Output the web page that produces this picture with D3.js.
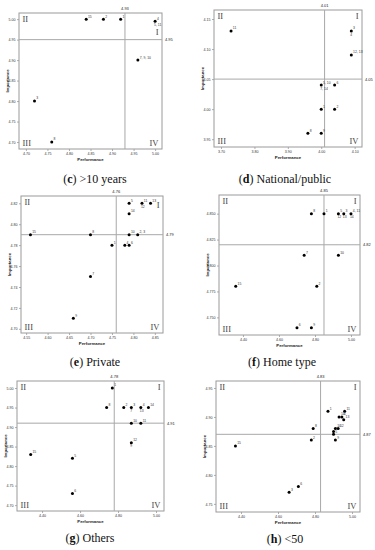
<!DOCTYPE html>
<html><head><meta charset="utf-8">
<script src="https://cdn.jsdelivr.net/npm/d3@7"></script>
<style>body{margin:0;background:#fff}svg{display:block}</style></head>
<body><svg id="chart" width="375" height="550"></svg>
<script>
// ---------- (c) >10 years ----------
const cPerf = [4.84, 4.88, 4.92, 5.00, 4.96, 4.72, 4.76];
const cImp  = [5.00, 5.00, 5.00, 4.995, 4.90, 4.80, 4.70];
const cLab  = ['15', '2', '1', '4', '7, 9, 10', '3', '8'];
const cLab2 = ['', '', '', '5, 11', '', '', ''];
const cXTicks = [4.70, 4.75, 4.80, 4.85, 4.90, 4.95, 5.00];
const cYTicks = [4.70, 4.75, 4.80, 4.85, 4.90, 4.95, 5.00];
const cXDom = [4.684, 5.016];
const cYDom = [4.683, 5.015];
const cMean = [4.93, 4.95];

// ---------- (d) National/public ----------
const dPerf = [3.73, 4.09, 4.09, 4.00, 4.04, 4.00, 4.04, 3.96, 4.00];
const dImp  = [4.13, 4.13, 4.09, 4.04, 4.04, 4.00, 4.00, 3.96, 3.96];
const dLab  = ['11', '3', '12, 13', '5, 10', '6', '1', '2', '8', '9'];
const dLab2 = ['', '4', '', '7, 14', '', '', '', '', ''];
const dXTicks = [3.70, 3.80, 3.90, 4.00, 4.10];
const dYTicks = [3.95, 4.00, 4.05, 4.10, 4.15];
const dXDom = [3.679, 4.122];
const dYDom = [3.937, 4.165];
const dMean = [4.01, 4.05];

// ---------- (e) Private ----------
const ePerf = [4.79, 4.82, 4.84, 4.79, 4.79, 4.81, 4.75, 4.78, 4.79, 4.70, 4.56, 4.70, 4.66];
const eImp  = [4.82, 4.82, 4.82, 4.81, 4.79, 4.79, 4.78, 4.78, 4.78, 4.79, 4.79, 4.75, 4.71];
const eLab  = ['5', '11', '13', '14', '10', '2, 3', '1', '4', '6', '8', '15', '7', '9'];
const eLab2 = ['', '12', '', '', '', '', '', '', '', '', '', '', ''];
const eXTicks = [4.55, 4.60, 4.65, 4.70, 4.75, 4.80, 4.85];
const eYTicks = [4.70, 4.72, 4.74, 4.76, 4.78, 4.80, 4.82];
const eXDom = [4.538, 4.869];
const eYDom = [4.696, 4.827];
const eMean = [4.76, 4.79];

// ---------- (f) Home type ----------
const fPerf = [4.78, 4.85, 4.93, 4.96, 5.00, 4.74, 4.93, 4.36, 4.81, 4.70, 4.78];
const fImp  = [4.85, 4.85, 4.85, 4.85, 4.85, 4.81, 4.81, 4.78, 4.78, 4.74, 4.74];
const fLab  = ['8', '1', '5', '3', '4, 11', '7', '10', '15', '2', '6', '9'];
const fLab2 = ['', '', '12', '13', '14', '', '', '', '', '', ''];
const fXTicks = [4.40, 4.60, 4.80, 5.00];
const fYTicks = [4.750, 4.775, 4.800, 4.825, 4.850];
const fXDom = [4.267, 5.05];
const fYDom = [4.733, 4.868];
const fMean = [4.85, 4.82];

// ---------- (g) Others ----------
const gPerf = [4.77, 4.74, 4.83, 4.87, 4.92, 4.96, 4.87, 4.92, 4.87, 4.34, 4.56, 4.56];
const gImp  = [5.00, 4.95, 4.95, 4.95, 4.95, 4.95, 4.91, 4.91, 4.86, 4.83, 4.82, 4.73];
const gLab  = ['1', '8', '2', '3', '4', '14', '10', '11', '12', '15', '5', '6'];
const gLab2 = ['', '', '', '7', '13', '', '', '', '9', '', '', ''];
const gXTicks = [4.40, 4.60, 4.80, 5.00];
const gYTicks = [4.70, 4.75, 4.80, 4.85, 4.90, 4.95, 5.00];
const gXDom = [4.268, 5.042];
const gYDom = [4.685, 5.018];
const gMean = [4.78, 4.91];

// ---------- (h) <50 ----------
const hPerf = [4.37, 4.66, 4.71, 4.78, 4.79, 4.87, 4.96, 4.93, 4.945, 4.955, 4.91, 4.925, 4.90, 4.90, 4.91];
const hImp  = [4.85, 4.77, 4.78, 4.86, 4.88, 4.91, 4.91, 4.90, 4.90, 4.895, 4.88, 4.88, 4.875, 4.87, 4.86];
const hLab  = ['15', '3', '6', '2', '8', '1', '11', '14', '4', '13', '10', '12', '7', '5', '9'];
const hLab2 = ['', '', '', '', '', '', '', '', '', '', '', '', '', '', ''];
const hXTicks = [4.40, 4.60, 4.80, 5.00];
const hYTicks = [4.75, 4.80, 4.85, 4.90, 4.95];
const hXDom = [4.265, 5.043];
const hYDom = [4.736, 4.962];
const hMean = [4.83, 4.87];

const panels = [
  {tag:'c', cap:' >10 years', perf:cPerf, imp:cImp, lab:cLab, lab2:cLab2, xt:cXTicks, yt:cYTicks, xd:cXDom, yd:cYDom, mean:cMean, yf:'.2f',
   box:[19,13,162,149], capX:95, capY:183, qI:22},
  {tag:'d', cap:' National/public', perf:dPerf, imp:dImp, lab:dLab, lab2:dLab2, xt:dXTicks, yt:dYTicks, xd:dXDom, yd:dYDom, mean:dMean, yf:'.2f',
   box:[214,10,362,147], capX:285, capY:183, qI:9},
  {tag:'e', cap:' Private', perf:ePerf, imp:eImp, lab:eLab, lab2:eLab2, xt:eXTicks, yt:eYTicks, xd:eXDom, yd:eYDom, mean:eMean, yf:'.2f',
   box:[21,196,163,333], capX:95, capY:366, qI:12},
  {tag:'f', cap:' Home type', perf:fPerf, imp:fImp, lab:fLab, lab2:fLab2, xt:fXTicks, yt:fYTicks, xd:fXDom, yd:fYDom, mean:fMean, yf:'.3f',
   box:[219,195,360,335], capX:282, capY:366, qI:9},
  {tag:'g', cap:' Others', perf:gPerf, imp:gImp, lab:gLab, lab2:gLab2, xt:gXTicks, yt:gYTicks, xd:gXDom, yd:gYDom, mean:gMean, yf:'.2f',
   box:[17,381,164,511], capX:90, capY:542, qI:9},
  {tag:'h', cap:' <50', perf:hPerf, imp:hImp, lab:hLab, lab2:hLab2, xt:hXTicks, yt:hYTicks, xd:hXDom, yd:hYDom, mean:hMean, yf:'.2f',
   box:[216,381,360,512], capX:285, capY:543, qI:9}
];

const svg = d3.select('#chart');
const serif = "'Liberation Serif','DejaVu Serif',serif";
const sans = "'Liberation Sans','DejaVu Sans',sans-serif";
const frameCol = '#9a9a9a', meanCol = '#a8a8a8';

panels.forEach(p => {
  const [x0, y0, x1, y1] = p.box;
  const x = d3.scaleLinear().domain(p.xd).range([x0, x1]);
  const y = d3.scaleLinear().domain(p.yd).range([y1, y0]);
  const g = svg.append('g');

  // axes
  const ax = g.append('g').attr('transform', `translate(0,${y1})`)
    .call(d3.axisBottom(x).tickValues(p.xt).tickSize(2).tickPadding(1.5).tickFormat(d3.format('.2f')));
  const ay = g.append('g').attr('transform', `translate(${x0},0)`)
    .call(d3.axisLeft(y).tickValues(p.yt).tickSize(2).tickPadding(1.5).tickFormat(d3.format(p.yf)));
  [ax, ay].forEach(a => {
    a.select('.domain').remove();
    a.selectAll('line').attr('stroke', '#777').attr('stroke-width', 0.6);
    a.selectAll('text').attr('font-family', sans).attr('font-size', 3.6).attr('fill', '#333');
  });

  // frame
  g.append('rect').attr('x', x0).attr('y', y0).attr('width', x1 - x0).attr('height', y1 - y0)
    .attr('fill', 'none').attr('stroke', frameCol).attr('stroke-width', 1);

  // mean lines
  const mx = x(p.mean[0]), my = y(p.mean[1]);
  g.append('line').attr('x1', mx).attr('x2', mx).attr('y1', y0).attr('y2', y1)
    .attr('stroke', meanCol).attr('stroke-width', 1);
  g.append('line').attr('x1', x0).attr('x2', x1).attr('y1', my).attr('y2', my)
    .attr('stroke', meanCol).attr('stroke-width', 1);
  g.append('text').attr('x', mx).attr('y', y0 - 3.5).attr('text-anchor', 'middle')
    .attr('font-family', sans).attr('font-size', 4).attr('fill', '#222').text(d3.format('.2f')(p.mean[0]));
  g.append('text').attr('x', x1 + 3).attr('y', my + 1.4).attr('text-anchor', 'start')
    .attr('font-family', sans).attr('font-size', 4).attr('fill', '#222').text(d3.format('.2f')(p.mean[1]));

  // quadrant labels
  const q = [['II', x0 + 3.5, y0 + 9, 'start'], ['I', x1 - 3.5, y0 + p.qI, 'end'],
             ['III', x0 + 3.5, y1 - 3, 'start'], ['IV', x1 - 3.5, y1 - 3, 'end']];
  q.forEach(([t, tx, ty, an]) => g.append('text').attr('x', tx).attr('y', ty).attr('text-anchor', an)
    .attr('font-family', serif).attr('font-size', 8.5).attr('fill', '#444').text(t));

  // points
  p.perf.forEach((v, i) => {
    const px = x(v), py = y(p.imp[i]);
    g.append('circle').attr('cx', px).attr('cy', py).attr('r', 1.5).attr('fill', '#000');
    g.append('text').attr('x', px + 1.8).attr('y', py - 1.6).attr('font-family', sans)
      .attr('font-size', 3.4).attr('fill', '#333').text(p.lab[i]);
    if (p.lab2[i]) g.append('text').attr('x', px - 1).attr('y', py + 4.6).attr('font-family', sans)
      .attr('font-size', 3.4).attr('fill', '#333').text(p.lab2[i]);
  });

  // axis titles
  g.append('text').attr('x', (x0 + x1) / 2).attr('y', y1 + 11.5).attr('text-anchor', 'middle')
    .attr('font-family', sans).attr('font-weight', 'bold').attr('font-size', 4.3).attr('fill', '#222').text('Performance');
  g.append('text').attr('transform', `translate(${x0 - 10},${(y0 + y1) / 2}) rotate(-90)`).attr('text-anchor', 'middle')
    .attr('font-family', sans).attr('font-weight', 'bold').attr('font-size', 4.3).attr('fill', '#222').text('Importance');

  // caption
  const cap = g.append('text').attr('x', p.capX).attr('y', p.capY).attr('text-anchor', 'middle')
    .attr('font-family', serif).attr('font-size', 12).attr('fill', '#111');
  cap.append('tspan').text('(');
  cap.append('tspan').attr('font-weight', 'bold').text(p.tag);
  cap.append('tspan').text(')' + p.cap);
});
</script></body></html>
